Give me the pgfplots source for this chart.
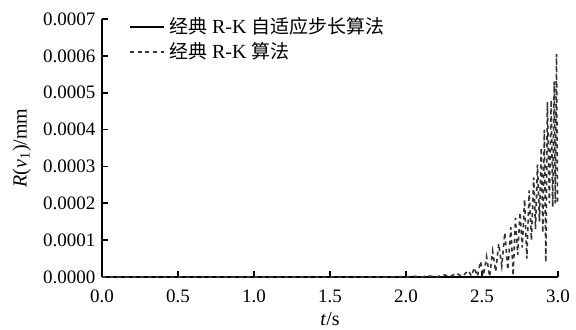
\documentclass[border=0pt]{standalone}
\usepackage{fontspec}
\setmainfont{Liberation Serif}
\newfontfamily\cjk[Scale=0.95]{Noto Sans CJK SC}
\usepackage{pgfplots}
\pgfplotsset{compat=1.18}
\begin{document}
\fontsize{9.5}{11}\selectfont
\begin{tikzpicture}
\begin{axis}[
  at={(0,0)}, anchor=south west,
  width=228pt, height=129pt, scale only axis,
  xmin=0, xmax=3, ymin=0, ymax=0.0007,
  axis lines*=left,
  axis line style={line width=0.9pt},
  tick align=inside,
  major tick length=3pt,
  tick style={line width=0.8pt, black},
  xtick={0,0.5,1,1.5,2,2.5,3},
  ytick={0,0.0001,0.0002,0.0003,0.0004,0.0005,0.0006,0.0007},
  scaled y ticks=false,
  tick label style={font=\fontsize{9.5}{11}\selectfont},
  xticklabel style={yshift=-3pt, /pgf/number format/.cd, fixed, fixed zerofill, precision=1, assume math mode=true},
  yticklabel style={/pgf/number format/.cd, fixed, fixed zerofill, precision=4, assume math mode=true},
  xlabel={\textit{t}/s},
  ylabel={\textit{R}(\textit{v}\textsubscript{1})/mm},
  label style={font=\fontsize{10}{12}\selectfont},
  xlabel style={yshift=1.5pt},
  ylabel style={yshift=-0.5pt},
  clip=false,
  legend style={at={(0.055,1.03)}, anchor=north west, draw=none, fill=none,
    font=\fontsize{10}{12}\selectfont, row sep=-1pt, inner sep=1pt},
  legend cell align=left,
  legend image code/.code={\draw[#1] (0cm,0cm) -- (17pt,0cm);},
]
\addplot[black, line width=0.8pt] coordinates {(0,0) (3,0)};
\addlegendentry{{\cjk 经典} R-K {\cjk 自适应步长算法}}
\addplot[color=black!80, line width=0.8pt, dash pattern=on 2pt off 1.8pt] coordinates {
(0,0) (1.5,0) (1.9,0) (1.95,0.000001) (2.0,0) (2.05,0.000002) (2.1,0)
(2.15,0.000003) (2.2,0) (2.25,0.000006) (2.29,0.000001) (2.33,0.00001)
(2.37,0.000002) (2.41,0.000017) (2.43,0.000003)
(2.45,0.000025) (2.47,0.000002)
(2.49,0.000042) (2.51,0.000005)
(2.53,0.000055) (2.55,0.000001)
(2.57,0.00007) (2.59,0.000015)
(2.61,0.00009) (2.63,0.00003)
(2.65,0.00012) (2.67,0.00002)
(2.69,0.000135) (2.705,0.000004)
(2.72,0.00016) (2.735,0.00006)
(2.75,0.000175) (2.765,0.00008)
(2.78,0.00021) (2.795,0.00005)
(2.81,0.000235) (2.825,0.0001)
(2.84,0.00027) (2.852,0.00013)
(2.865,0.000305) (2.878,0.00015)
(2.89,0.00035) (2.90,0.00012)
(2.91,0.0004) (2.92,0.00004)
(2.93,0.000475) (2.943,0.0002)
(2.955,0.00048) (2.965,0.00019)
(2.975,0.00053) (2.982,0.0002)
(2.99,0.000605) (2.997,0.000195)
};
\addlegendentry{{\cjk 经典} R-K {\cjk 算法}}
\end{axis}
\pgfresetboundingbox
\path (-51pt,-26.5pt) rectangle (237pt,138.5pt);
\end{tikzpicture}
\end{document}
